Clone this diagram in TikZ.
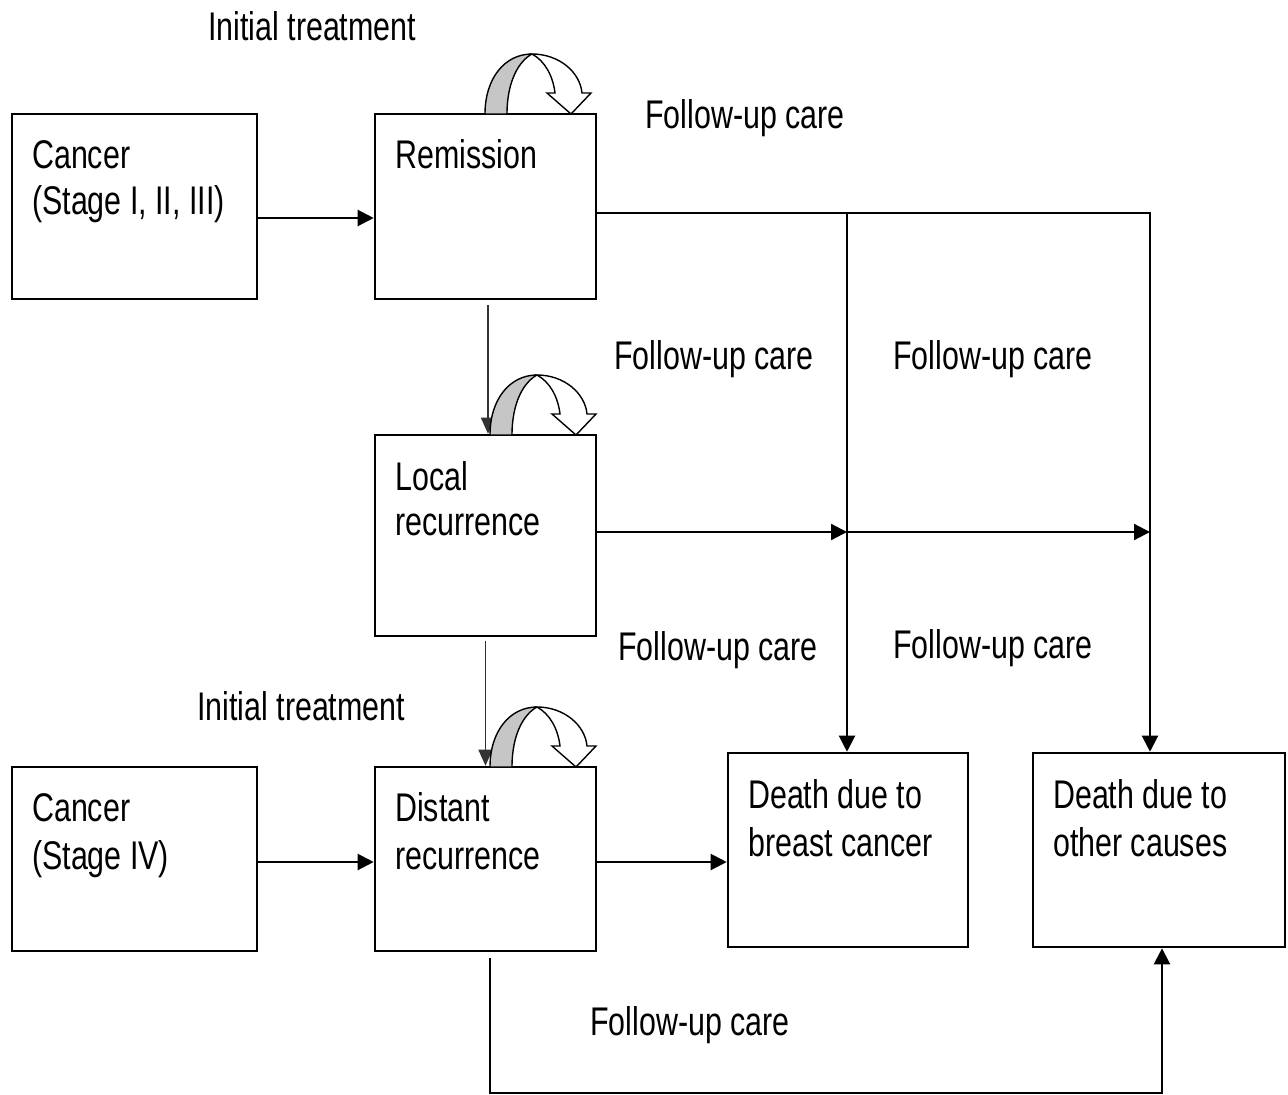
\documentclass[tikz,border=0pt]{standalone}
\usepackage{fontspec}
\setmainfont{Liberation Sans}[FakeStretch=0.76]
\usetikzlibrary{arrows.meta}
\tikzset{
  box/.style={draw, line width=2.6pt, inner sep=0pt},
  txt/.style={anchor=base west, inner sep=0pt, font=\fontsize{40}{48}\selectfont},
  arr/.style={line width=2.2pt, -{Triangle[length=16pt,width=16pt]}},
  thinarr/.style={line width=1.6pt, draw=black!80, -{Triangle[length=16pt,width=14pt]}},
  plain/.style={line width=2.2pt},
  curvarrow/.pic={
    \filldraw[fill=gray!45, line width=1.4pt, line join=round]
      (0,0) .. controls (0,-36) and (20,-60) .. (47,-60)
      .. controls (34,-53) and (22,-33) .. (22,0) -- cycle;
    \filldraw[fill=white, line width=1.4pt, line join=miter]
      (47,-60) .. controls (74,-60) and (95,-42) .. (97,-21)
      -- (106,-21) -- (86,0) -- (62,-21) -- (70,-21)
      .. controls (68,-38) and (60,-53) .. (47,-60) -- cycle;
  }
}
\begin{document}
\begin{tikzpicture}[x=1pt,y=-1pt]
\useasboundingbox[fill=white] (0,0) rectangle (1288,1095);

% boxes
\node[box, minimum width=245pt, minimum height=185pt] (c1)  at (134.5,206.5) {};
\node[box, minimum width=221pt, minimum height=185pt] (rem) at (485.5,206.5) {};
\node[box, minimum width=221pt, minimum height=201pt] (loc) at (485.5,535.5) {};
\node[box, minimum width=245pt, minimum height=184pt] (c4)  at (134.5,859) {};
\node[box, minimum width=221pt, minimum height=184pt] (dis) at (485.5,859) {};
\node[box, minimum width=240pt, minimum height=194pt] (dbc) at (848,850) {};
\node[box, minimum width=252pt, minimum height=194pt] (doc) at (1159,850) {};

% box texts
\node[txt] (t1a) at (32,168) {Cancer};
\node[txt] (t1b) at (32,214) {(Stage I, II, III)};
\node[txt] (t2a) at (395,168) {Remission};
\node[txt] (t3a) at (395,490) {Local};
\node[txt] (t3b) at (395,535) {recurrence};
\node[txt] (t4a) at (32,821) {Cancer};
\node[txt] (t4b) at (32,869) {(Stage IV)};
\node[txt] (t5a) at (395,821) {Distant};
\node[txt] (t5b) at (395,869) {recurrence};
\node[txt] (t6a) at (748,808) {Death due to};
\node[txt] (t6b) at (748,856) {breast cancer};
\node[txt] (t7a) at (1053,808) {Death due to};
\node[txt] (t7b) at (1053,856) {other causes};

% free labels
\node[txt] (l1) at (208,40) {Initial treatment};
\node[txt] (l2) at (645,128) {Follow-up care};
\node[txt] (l3) at (614,369) {Follow-up care};
\node[txt] (l4) at (893,369) {Follow-up care};
\node[txt] (l5) at (618,660) {Follow-up care};
\node[txt] (l6) at (893,658) {Follow-up care};
\node[txt] (l7) at (197,720) {Initial treatment};
\node[txt] (l8) at (590,1035) {Follow-up care};

% junction coordinates
\coordinate (j1) at (847,213);
\coordinate (j2) at (1150,213);
\coordinate (k1) at (847,532);
\coordinate (k2) at (1150,532);
\coordinate (b1) at (490,1093);
\coordinate (b2) at (1162,1093);

% connectors
\draw[arr] ([yshift=-11.5pt]c1.east) -- ([yshift=-11.5pt]rem.west);
\draw[thinarr] ([xshift=2.5pt,yshift=-5pt]rem.south) -- ([xshift=2.5pt]loc.north);
\draw[thinarr] ([yshift=-4pt]loc.south) -- (loc.south |- dis.north);
\draw[arr] ([yshift=-3pt]c4.east) -- ([yshift=-3pt]dis.west);
\draw[arr] ([yshift=-3pt]dis.east) -- ([yshift=-12pt]dbc.west);
\draw[arr] ([yshift=-6.5pt]rem.east) -- (j2) -- (j2 |- doc.north);
\draw[arr] (j1) -- (j1 |- dbc.north);
\draw[arr] ([yshift=3.5pt]loc.east) -- (k1);
\draw[arr] (k1) -- (k2);
\draw[arr] ([xshift=4.5pt,yshift=-6pt]dis.south) -- (b1) -- (b2) -- (b2 |- doc.south);

% self-loop curved arrows
\pic (cv1) at (485,114) {curvarrow};
\pic (cv2) at (490,435) {curvarrow};
\pic (cv3) at (490,767) {curvarrow};
\end{tikzpicture}
\end{document}
